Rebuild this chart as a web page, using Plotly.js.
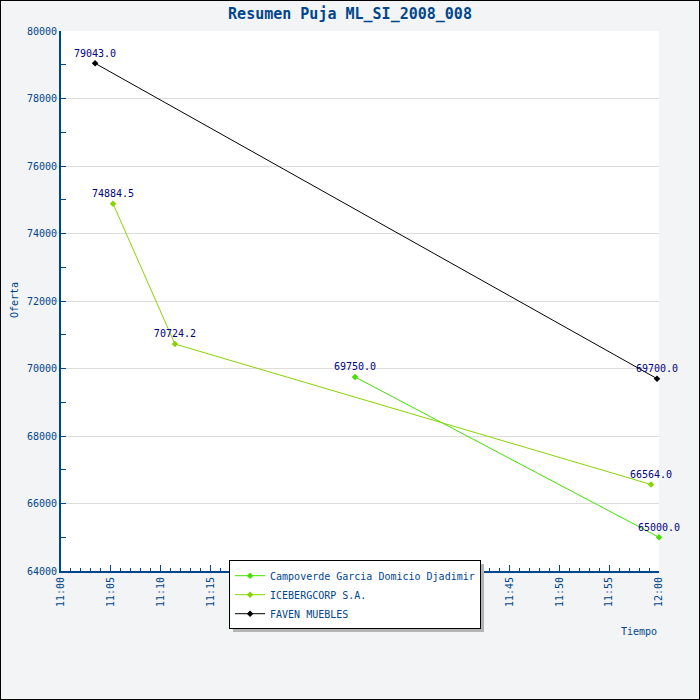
<!DOCTYPE html>
<html>
<head>
<meta charset="utf-8">
<script src="https://cdn.plot.ly/plotly-3.0.1.min.js"></script>
<style>
  body { margin: 0; background: #fff; }
  #myDiv { width: 698px; height: 698px; border: 1px solid #000; }
</style>
</head>
<body>
<div id="myDiv"></div>
<script>
var day = '2008-01-01 ';

var campoTimes = ['11:29:30', '12:00:00'];
var campoValues = [69750.0, 65000.0];

var icebergTimes = ['11:05:13', '11:11:26', '11:59:12'];
var icebergValues = [74884.5, 70724.2, 66564.0];

var favenTimes = ['11:03:25', '11:59:48'];
var favenValues = [79043.0, 69700.0];

var blue = '#00468c';
var navy = '#000080';
var mono = 'DejaVu Sans Mono, monospace';

function series(name, times, values, color) {
  return {
    name: name,
    x: times.map(function (t) { return day + t; }),
    y: values,
    type: 'scatter',
    mode: 'lines+markers+text',
    line: {color: color, width: 1},
    marker: {color: color, symbol: 'diamond', size: 5},
    texttemplate: '%{y:.1f}',
    textposition: 'top center',
    textfont: {family: mono, size: 10, color: navy},
    cliponaxis: false,
    hoverinfo: 'name+x+y'
  };
}

var data = [
  series('Campoverde Garcia Domicio Djadimir', campoTimes, campoValues, '#44e000'),
  series('ICEBERGCORP S.A.', icebergTimes, icebergValues, '#88d400'),
  series('FAVEN MUEBLES', favenTimes, favenValues, '#000000')
];

var layout = {
  width: 698,
  height: 698,
  margin: {l: 60, r: 40, t: 30, b: 128, pad: 0},
  paper_bgcolor: '#f3f4f6',
  plot_bgcolor: '#ffffff',
  title: {
    text: '<b>Resumen Puja ML_SI_2008_008</b>',
    font: {family: mono, size: 15, color: blue},
    x: 0.5, xanchor: 'center', y: 0.982, yanchor: 'middle'
  },
  xaxis: {
    type: 'date',
    range: [day + '11:00:00', day + '12:00:00'],
    dtick: 300000,
    tick0: day + '11:00:00',
    tickformat: '%H:%M',
    tickangle: -90,
    ticks: 'inside',
    ticklen: 6,
    tickcolor: blue,
    tickfont: {family: mono, size: 10, color: blue},
    showline: true,
    linecolor: blue,
    linewidth: 2,
    showgrid: false,
    zeroline: false,
    minor: {dtick: 60000, ticks: 'inside', ticklen: 3, tickcolor: blue, showgrid: false}
  },
  yaxis: {
    range: [64000, 80000],
    dtick: 2000,
    tickformat: 'd',
    ticks: 'inside',
    ticklen: 5,
    tickcolor: blue,
    tickfont: {family: mono, size: 10, color: blue},
    showline: true,
    linecolor: blue,
    linewidth: 2,
    showgrid: true,
    gridcolor: '#dcdcdc',
    zeroline: false,
    minor: {dtick: 1000, ticks: 'inside', ticklen: 5, tickcolor: blue, showgrid: false}
  },
  showlegend: true,
  legend: {
    x: 0.281, xanchor: 'left',
    y: 0.02, yanchor: 'top',
    bgcolor: '#ffffff',
    bordercolor: '#000000',
    borderwidth: 1,
    font: {family: mono, size: 10, color: blue},
    itemwidth: 30,
    tracegroupgap: 0
  },
  shapes: [{
    type: 'rect', xref: 'paper', yref: 'paper', layer: 'above',
    x0: (233 - 61) / 598, x1: (484 - 61) / 598,
    y0: (571 - 632) / 540, y1: (571 - 564) / 540,
    fillcolor: '#b4b4b4', line: {width: 0}
  }],
  annotations: [{
    text: 'Oferta', xref: 'paper', yref: 'paper',
    x: (14 - 61) / 598, xanchor: 'center', y: (571 - 300) / 540, yanchor: 'middle',
    textangle: -90, showarrow: false,
    font: {family: mono, size: 10, color: blue}
  }, {
    text: 'Tiempo', xref: 'paper', yref: 'paper',
    x: 1, xanchor: 'right', y: -60 / 540, yanchor: 'middle', showarrow: false,
    font: {family: mono, size: 10, color: blue}
  }]
};

Plotly.newPlot('myDiv', data, layout, {displayModeBar: false});
</script>
</body>
</html>
